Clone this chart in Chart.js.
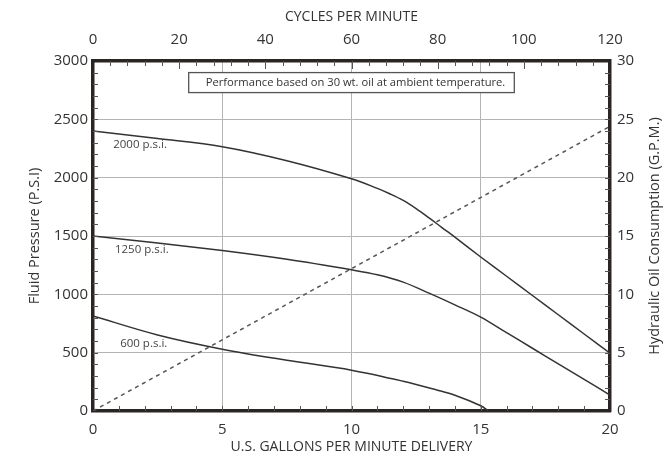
<!DOCTYPE html>
<html>
<head>
<meta charset="utf-8">
<script src="https://cdn.jsdelivr.net/npm/chart.js@4.4.1/dist/chart.umd.min.js"></script>
<style>
  html, body { margin: 0; padding: 0; background: #fff; }
  #wrap { width: 668px; height: 465px; }
</style>
</head>
<body>
<div id="wrap"><canvas id="chart"></canvas></div>
<script>
// curves (gpm delivery vs fluid pressure)
const gpm2000 = [0, 2.5, 5, 7.5, 10, 11, 11.5, 12, 12.5, 13, 13.5, 14, 15, 16, 17, 18, 19, 20];
const psi2000 = [2400, 2335, 2265, 2145, 1990, 1908, 1860, 1805, 1735, 1655, 1572, 1490, 1320, 1155, 990, 825, 660, 495];
const gpm1250 = [0, 2.5, 5, 7.5, 10, 11, 12, 13, 14, 15, 16, 17, 18, 19, 20];
const psi1250 = [1500, 1440, 1375, 1300, 1210, 1168, 1105, 1010, 910, 805, 671, 538, 404, 271, 137];
const gpm600 = [0, 2.5, 5, 7.5, 10, 12, 13.3, 14, 15, 15.3];
const psi600 = [815, 652, 530, 435, 350, 255, 180, 135, 45, 0];
// hydraulic oil consumption (right axis)
const gpmOil = [0, 20];
const oilUse = [0, 24.4];

const curveLabels = ['2000 p.s.i.', '1250 p.s.i.', '600 p.s.i.'];
// where each curve label sits, in data units (gpm, psi)
const labelAt = [[0.78, 2280], [0.85, 1380], [1.05, 574]];
const note = 'Performance based on 30 wt. oil at ambient temperature.';

const gpmTicks = [0, 5, 10, 15, 20];
const cycleTicks = [0, 20, 40, 60, 80, 100, 120];
const psiTicks = [0, 500, 1000, 1500, 2000, 2500, 3000];
const oilTicks = [0, 5, 10, 15, 20, 25, 30];

const ink = '#333';
const frame = '#2b2422';
const gridGrey = '#b4b4b4';
const FONT = 'Open Sans';

const pts = (xs, ys) => xs.map((x, i) => ({ x, y: ys[i] }));
const useTicks = arr => scale => { scale.ticks = arr.map(v => ({ value: v })); };
const plain = v => String(v);

const decorations = {
  id: 'decorations',
  afterDatasetsDraw(chart) {
    const { ctx, scales } = chart;
    ctx.save();

    // note box
    ctx.font = `11.2px "${FONT}"`;
    const tw = ctx.measureText(note).width;
    const cx = scales.x.getPixelForValue(10);
    const cy = scales.y.getPixelForValue(2815);
    const bw = tw + 26, bh = 20;
    ctx.fillStyle = '#fff';
    ctx.fillRect(cx - bw / 2, cy - bh / 2, bw, bh);
    ctx.strokeStyle = '#555';
    ctx.lineWidth = 1.3;
    ctx.strokeRect(cx - bw / 2, cy - bh / 2, bw, bh);
    ctx.fillStyle = ink;
    ctx.textAlign = 'center';
    ctx.textBaseline = 'middle';
    ctx.fillText(note, cx + 4, cy + 0.5);

    // curve labels
    ctx.font = `11.5px "${FONT}"`;
    ctx.textAlign = 'left';
    ctx.fillStyle = '#444';
    curveLabels.forEach((t, i) => {
      ctx.fillText(t, scales.x.getPixelForValue(labelAt[i][0]), scales.y.getPixelForValue(labelAt[i][1]));
    });
    ctx.restore();
  },
  afterDraw(chart) {
    const { ctx, chartArea: a, scales } = chart;
    ctx.save();
    ctx.strokeStyle = '#555';
    ctx.lineWidth = 1;
    ctx.beginPath();
    for (let v = 1; v < 20; v++) {
      const p = Math.round(scales.x.getPixelForValue(v)) + 0.5;
      ctx.moveTo(p, a.bottom); ctx.lineTo(p, a.bottom - 5);
    }
    for (let v = 4; v < 120; v += 4) {
      const p = Math.round(scales.x2.getPixelForValue(v)) + 0.5;
      const len = v % 20 === 0 ? 8 : 5;
      ctx.moveTo(p, a.top); ctx.lineTo(p, a.top + len);
    }
    for (let v = 100; v < 3000; v += 100) {
      const p = Math.round(scales.y.getPixelForValue(v)) + 0.5;
      ctx.moveTo(a.left, p); ctx.lineTo(a.left + 5, p);
    }
    for (let v = 1; v < 30; v++) {
      const p = Math.round(scales.y2.getPixelForValue(v)) + 0.5;
      ctx.moveTo(a.right, p); ctx.lineTo(a.right - 5, p);
    }
    ctx.stroke();

    // right axis title reads bottom-to-top, so draw it here
    ctx.font = `14.5px "${FONT}"`;
    ctx.fillStyle = ink;
    ctx.textAlign = 'center';
    ctx.textBaseline = 'middle';
    ctx.translate(scales.y2.right - 13, (a.top + a.bottom) / 2);
    ctx.rotate(-Math.PI / 2);
    ctx.fillText('Hydraulic Oil Consumption (G.P.M.)', 0, 0);
    ctx.restore();
  }
};

const curve = (data) => ({
  data,
  borderColor: ink,
  borderWidth: 1.5,
  pointRadius: 0,
  fill: false,
  tension: 0.35,
  xAxisID: 'x',
  yAxisID: 'y'
});

const tickFont = { family: FONT, size: 15 };

new Chart(document.getElementById('chart'), {
  type: 'line',
  data: {
    datasets: [
      curve(pts(gpm2000, psi2000)),
      curve(pts(gpm1250, psi1250)),
      curve(pts(gpm600, psi600)),
      {
        data: pts(gpmOil, oilUse),
        borderColor: '#555',
        borderWidth: 1.5,
        borderDash: [4, 4],
        pointRadius: 0,
        fill: false,
        xAxisID: 'x',
        yAxisID: 'y2'
      }
    ]
  },
  options: {
    responsive: true,
    maintainAspectRatio: false,
    animation: false,
    layout: { padding: 0 },
    plugins: { legend: { display: false }, tooltip: { enabled: false } },
    scales: {
      x: {
        type: 'linear', position: 'bottom', min: 0, max: 20,
        afterBuildTicks: useTicks(gpmTicks),
        afterFit: s => { s.height = 54; },
        grid: { color: gridGrey, lineWidth: 1, drawTicks: false },
        border: { color: frame, width: 3.5 },
        ticks: { color: ink, font: tickFont, padding: 10, callback: plain },
        title: { display: true, text: 'U.S. GALLONS PER MINUTE DELIVERY', color: ink,
                 font: { family: FONT, size: 14 }, padding: { top: 0, bottom: 9.5 } }
      },
      x2: {
        type: 'linear', position: 'top', min: 0, max: 120,
        afterBuildTicks: useTicks(cycleTicks),
        afterFit: s => { s.height = 61; },
        grid: { display: false, drawTicks: false },
        border: { color: frame, width: 3.5 },
        ticks: { color: ink, font: tickFont, padding: 12, callback: plain },
        title: { display: true, text: 'CYCLES PER MINUTE', color: ink,
                 font: { family: FONT, size: 14 }, padding: { top: 8.5, bottom: 0 } }
      },
      y: {
        type: 'linear', position: 'left', min: 0, max: 3000,
        afterBuildTicks: useTicks(psiTicks),
        afterFit: s => { s.width = 93; },
        grid: { color: gridGrey, lineWidth: 1, drawTicks: false },
        border: { color: frame, width: 3.5 },
        ticks: { color: ink, font: tickFont, padding: 5, callback: plain },
        title: { display: true, text: 'Fluid Pressure (P.S.I)', color: ink,
                 font: { family: FONT, size: 14.5 }, padding: { top: 26, bottom: 0 } }
      },
      y2: {
        type: 'linear', position: 'right', min: 0, max: 30,
        afterBuildTicks: useTicks(oilTicks),
        afterFit: s => { s.width = 58; },
        grid: { display: false, drawTicks: false },
        border: { color: frame, width: 3.5 },
        ticks: { color: ink, font: tickFont, padding: 7, callback: plain }
      }
    }
  },
  plugins: [decorations]
});
</script>
</body>
</html>
